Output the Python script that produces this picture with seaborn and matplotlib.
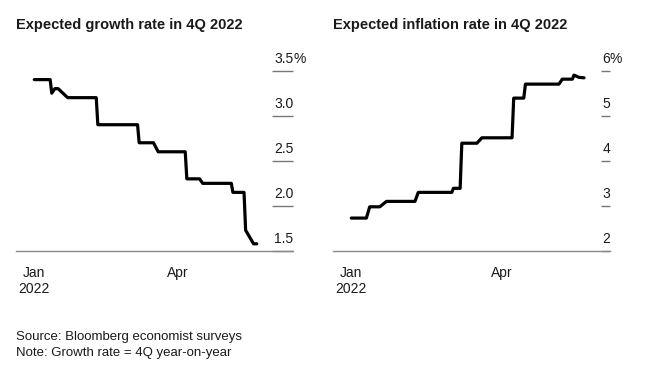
import pandas as pd
import matplotlib.pyplot as plt
import matplotlib.dates as mdates
import seaborn as sns

sns.set_theme(style="white")
plt.rcParams['font.family'] = ['Liberation Sans', 'DejaVu Sans']

# --- dados ---
growth_dates = ['2022-01-01', '2022-01-11', '2022-01-12', '2022-01-14', '2022-01-16',
                '2022-01-22', '2022-02-09', '2022-02-10', '2022-03-07', '2022-03-08',
                '2022-03-17', '2022-03-20', '2022-04-06', '2022-04-07', '2022-04-15',
                '2022-04-17', '2022-05-05', '2022-05-06', '2022-05-13', '2022-05-14',
                '2022-05-19', '2022-05-21']
growth_values = [3.40, 3.40, 3.25, 3.30, 3.30,
                 3.20, 3.20, 2.90, 2.90, 2.70,
                 2.70, 2.60, 2.60, 2.30, 2.30,
                 2.25, 2.25, 2.15, 2.15, 1.73,
                 1.58, 1.58]

infl_dates = ['2022-01-01', '2022-01-10', '2022-01-12', '2022-01-18', '2022-01-22',
              '2022-02-08', '2022-02-10', '2022-03-02', '2022-03-03', '2022-03-07',
              '2022-03-08', '2022-03-17', '2022-03-20', '2022-04-07', '2022-04-08',
              '2022-04-14', '2022-04-15', '2022-05-05', '2022-05-07', '2022-05-13',
              '2022-05-14', '2022-05-17', '2022-05-20']
infl_values = [2.73, 2.73, 2.98, 2.98, 3.10,
               3.10, 3.30, 3.30, 3.39, 3.39,
               4.39, 4.39, 4.51, 4.51, 5.39,
               5.39, 5.70, 5.70, 5.81, 5.81,
               5.90, 5.85, 5.84]

growth_ticks = [1.5, 2.0, 2.5, 3.0, 3.5]
growth_labels = ['1.5', '2.0', '2.5', '3.0', '3.5']
infl_ticks = [2, 3, 4, 5, 6]
infl_labels = ['2', '3', '4', '5', '6']

x_ticks = ['2022-01-01', '2022-04-01']
x_labels = ['Jan\n2022', 'Apr']

growth = pd.DataFrame({'date': pd.to_datetime(growth_dates), 'value': growth_values})
infl = pd.DataFrame({'date': pd.to_datetime(infl_dates), 'value': infl_values})

W, H = 654, 372
TXT = '#1a1a1a'
fig = plt.figure(figsize=(W / 100, H / 100), dpi=100)


def add_ax(x0, x1, ytop, ybot):
    return fig.add_axes([x0 / W, 1 - ybot / H, (x1 - x0) / W, (ybot - ytop) / H])


def style_panel(ax, df, ylim, ticks, labels, xlim_days, stub_len, title, title_x):
    sns.lineplot(x='date', y='value', data=df, ax=ax, color='black', linewidth=2.3)
    jan1 = pd.Timestamp('2022-01-01')
    ax.set_xlim(jan1 + pd.Timedelta(days=xlim_days[0]), jan1 + pd.Timedelta(days=xlim_days[1]))
    ax.set_ylim(*ylim)
    for s in ['top', 'left', 'right']:
        ax.spines[s].set_visible(False)
    ax.spines['bottom'].set_color('#8a8a8a')
    ax.spines['bottom'].set_linewidth(1)
    ax.set_xlabel('')
    ax.set_ylabel('')
    ax.grid(False)

    ax.set_xticks(pd.to_datetime(x_ticks))
    ax.set_xticklabels(x_labels, fontsize=10, color=TXT, multialignment='center')
    ax.tick_params(axis='x', direction='out', length=4.5, width=1, color='#666', pad=6.5)

    ax.yaxis.tick_right()
    ax.set_yticks(ticks)
    ax.tick_params(axis='y', direction='in', length=stub_len, width=1, color='#777',
                   labelright=False, labelleft=False)
    tr = ax.get_yaxis_transform()
    for v, lab in zip(ticks, labels):
        ax.annotate(lab, xy=(1, v), xycoords=tr, xytext=(0, 5.5), textcoords='offset points',
                    ha='right', va='baseline', fontsize=10, color=TXT, annotation_clip=False)
    ax.annotate('%', xy=(1, ticks[-1]), xycoords=tr, xytext=(0, 5.5), textcoords='offset points',
                ha='left', va='baseline', fontsize=10, color=TXT, annotation_clip=False)

    fig.text(title_x / W, 1 - 29 / H, title, fontsize=10.5, fontweight='bold',
             color=TXT, va='baseline', ha='left')


ax1 = add_ax(16, 293.3, 60, 251)
style_panel(ax1, growth, (1.5, 1.5 + 191 / 90.2), growth_ticks, growth_labels,
            (-11.5, 163.0), 14.8, 'Expected growth rate in 4Q 2022', 16)

ax2 = add_ax(333.3, 610, 60, 251)
style_panel(ax2, infl, (2, 2 + 191 / 45.1), infl_ticks, infl_labels,
            (-10.75, 154.5), 6.5, 'Expected inflation rate in 4Q 2022', 333)

fig.text(16 / W, 1 - 340 / H, 'Source: Bloomberg economist surveys', fontsize=9.5,
         color=TXT, va='baseline', ha='left')
fig.text(16 / W, 1 - 356 / H, 'Note: Growth rate = 4Q year-on-year', fontsize=9.5,
         color=TXT, va='baseline', ha='left')

fig.savefig('out.png', dpi=100)
